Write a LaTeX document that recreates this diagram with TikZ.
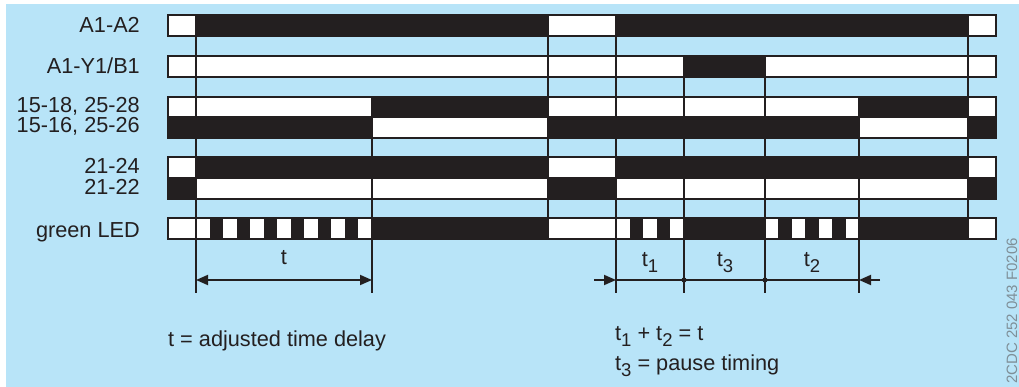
\documentclass[tikz,border=0pt]{standalone}
\usepackage{fontspec}
\setmainfont{Liberation Sans}
\usetikzlibrary{arrows.meta}
\definecolor{bg}{HTML}{B8E4F8}
\definecolor{ink}{HTML}{231F20}
\definecolor{codegray}{HTML}{7F8F98}
\newcommand\tsub[1]{\raisebox{-0.28em}{\fontsize{18.5}{18.5}\selectfont #1}}
\newcommand\tlrow[3]{%
  \fill[white] (168,#1) rectangle (996,#2);
  \foreach \a/\b in {#3} {\fill[ink] (\a,#1) rectangle (\b,#2);}
  \draw[barframe] (168,#1) rectangle (996,#2);
}
\begin{document}
\begin{tikzpicture}[x=1pt,y=-1pt,
  lbl/.style={anchor=base east, font=\fontsize{21.7}{24}\selectfont, text=ink, inner sep=0pt},
  note/.style={anchor=base west, font=\fontsize{21.7}{24}\selectfont, text=ink, inner sep=0pt},
  dimlbl/.style={anchor=base, font=\fontsize{21.7}{24}\selectfont, text=ink, inner sep=0pt},
  barframe/.style={draw=ink, line width=1.6pt},
  vline/.style={draw=ink, line width=1.8pt},
  dimline/.style={draw=ink, line width=1.8pt},
  tiph/.tip={Triangle[length=12pt,width=10pt]},
  dot/.style={fill=ink}
]
\useasboundingbox (0,0) rectangle (1019,387);
\fill[bg] (6,4) rectangle (1019,387);

% signal rows
\tlrow{15}{36}{196/548,616/968}
\tlrow{56}{77}{684/765}
\tlrow{97}{117}{372/548,859/968}
\tlrow{117}{138}{168/372,548/859,968/996}
\tlrow{157}{178}{196/548,616/968}
\tlrow{178}{199}{168/196,548/616,968/996}
\tlrow{218}{239}{209.5/223,236.5/250,263.5/277,290.5/304,317.5/331,344.5/358,372/548,629.6/643.2,656.8/670.4,684/765,778.4/791.9,805.3/818.7,832.1/845.6,859/968}

% vertical time markers
\coordinate (v1t) at (196,15);  \coordinate (v1b) at (196,293);
\coordinate (v2t) at (372,97);  \coordinate (v2b) at (372,293);
\coordinate (v3t) at (548,15);  \coordinate (v3b) at (548,239);
\coordinate (v4t) at (616,15);  \coordinate (v4b) at (616,293);
\coordinate (v5t) at (684,56);  \coordinate (v5b) at (684,293);
\coordinate (v6t) at (765,56);  \coordinate (v6b) at (765,293);
\coordinate (v7t) at (859,97);  \coordinate (v7b) at (859,293);
\coordinate (v8t) at (968,15);  \coordinate (v8b) at (968,239);
\foreach \i in {1,...,8} {\draw[vline] (v\i t) -- (v\i b);}

% labels
\node[lbl] (lA) at (140,33) {A1-A2};
\node[lbl] (lY) at (140,74) {A1-Y1/B1};
\node[lbl] (l15a) at (140,113) {15-18, 25-28};
\node[lbl] (l15b) at (140,133) {15-16, 25-26};
\node[lbl] (l21a) at (140,174) {21-24};
\node[lbl] (l21b) at (140,194.5) {21-22};
\node[lbl] (lLED) at (140,237) {green LED};

% t dimension
\coordinate (tA) at (196,280);
\coordinate (tB) at (372,280);
\draw[dimline, tiph-tiph] (tA) -- (tB);
\node[dimlbl] (tl) at (284,265) {t};

% t1 t3 t2 dimension
\coordinate (pL) at (594,280);
\coordinate (p1) at (616,280);
\coordinate (p3) at (684,280);
\coordinate (p2) at (765,280);
\coordinate (p4) at (859,280);
\coordinate (pR) at (880,280);
\draw[dimline, -tiph] (pL) -- (p1);
\draw[dimline] (p1) -- (p4);
\draw[dimline, -tiph] (pR) -- (p4);
\fill[dot] (p3) circle (2.6);
\fill[dot] (p2) circle (2.6);
\node[dimlbl] (t1l) at (650,266) {t\tsub{1}};
\node[dimlbl] (t3l) at (725,266) {t\tsub{3}};
\node[dimlbl] (t2l) at (812,266) {t\tsub{2}};

% notes
\node[note] (n1) at (168,346) {t = adjusted time delay};
\node[note] (n2) at (615,340) {t\tsub{1} + t\tsub{2} = t};
\node[note] (n3) at (615,370) {t\tsub{3} = pause timing};

% drawing code
\node[rotate=90, font=\fontsize{15}{16}\selectfont, text=codegray, inner sep=0pt] (code) at (1012,311) {2CDC 252 043 F0206};
\end{tikzpicture}
\end{document}
